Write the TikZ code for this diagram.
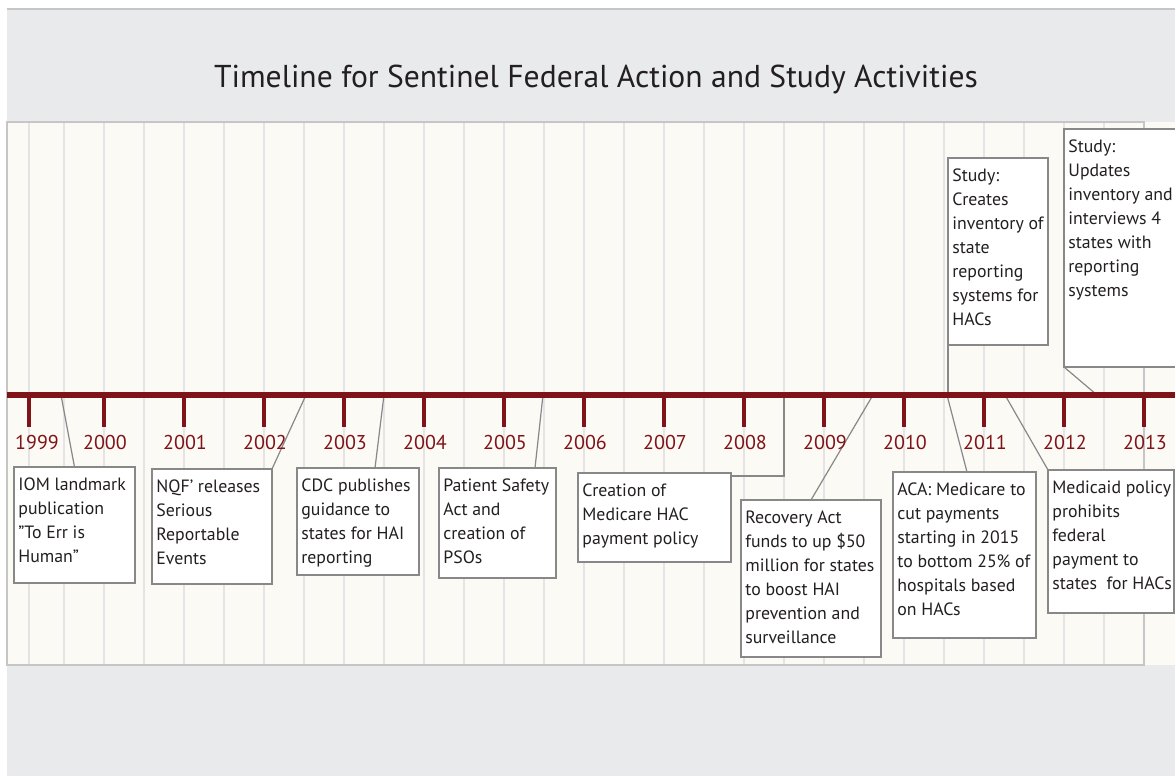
\documentclass[tikz,border=0pt]{standalone}
\usepackage{fontspec}
\setmainfont{PT Sans}
\usepackage{tikz}
\usetikzlibrary{calc}
\definecolor{axisRed}{RGB}{127,19,23}
\definecolor{panelGray}{RGB}{233,234,236}
\definecolor{plotCream}{RGB}{252,250,245}
\definecolor{gridGray}{RGB}{228,228,231}
\definecolor{borderGray}{RGB}{198,198,198}
\definecolor{boxGray}{RGB}{136,136,136}
\definecolor{textDark}{RGB}{35,31,32}
\newcommand{\eventFont}{\fontsize{8.9}{12}\selectfont}
\newcommand{\yearFont}{\fontsize{10}{12}\selectfont}
\newcommand{\titleFont}{\fontsize{15.8}{19}\selectfont}
\tikzstyle{timeline} = [x = 0.5pt, y = -0.5pt]
\tikzstyle{gridLine} = [color=gridGray, line width=.75pt]
\tikzstyle{borderLine} = [color=borderGray, line width=1.25pt]
\tikzstyle{axisLine} = [color=axisRed, line width=3pt]
\tikzstyle{tickLine} = [color=axisRed, line width=2pt]
\tikzstyle{yearText} = [color=axisRed, font=\yearFont, anchor=base, inner sep=0pt]
\tikzstyle{eventBox} = [draw=boxGray, fill=white, line width=.75pt, inner sep=0pt, outer sep=0pt, anchor=north west]
\tikzstyle{eventText} = [align=left, inner sep=0pt, anchor=north west, color=textDark, font=\eventFont]
\tikzstyle{callout} = [color=boxGray, line width=.6pt]
\newcommand{\timelineEvent}[6]{
  \node [eventBox, minimum width=#4*0.5pt, minimum height=#5*0.5pt] (#1) at (#2,#3) {};
  \node [eventText] (#1Text) at ($(#1.north west)+(4,10)$) {#6};
}
\newcommand{\gridLines}{
  \foreach \gx in {29,64,104,144,...,1104} {
    \draw [gridLine] (\gx,122) -- (\gx,665);
  }
}
\newcommand{\yearTicks}{
  \foreach \year/\tx/\lx in {1999/29/37, 2000/104/105, 2001/184/185, 2002/264/265, 2003/344/345,
      2004/424/425, 2005/504/505, 2006/584/585, 2007/664/665, 2008/744/745,
      2009/824/825, 2010/904/905, 2011/984/985, 2012/1064/1065, 2013/1144/1145} {
    \draw [tickLine] (\tx,395) -- (\tx,427);
    \node [yearText] (y\year) at (\lx,449) {\year};
  }
}

\begin{document}
\begin{tikzpicture}[timeline]
  \useasboundingbox (0,0) rectangle (1175,776);
  \fill [panelGray] (7,9) rectangle (1175,776);
  \draw [borderLine] (7,9) -- (1175,9);
  \fill [plotCream] (7,122) rectangle (1175,665);
  \gridLines
  \draw [borderLine] (1144,122) -- (7,122) -- (7,665) -- (1144,665) -- cycle;

  \node [font=\titleFont, color=textDark, anchor=base] (title) at (596,87)
    {Timeline for Sentinel Federal Action and Study Activities};

  \coordinate (pinIom) at (61,395);
  \coordinate (pinNqf) at (306,395);
  \coordinate (pinCdc) at (384,395);
  \coordinate (pinPsa) at (543,395);
  \coordinate (pinHac) at (784,395);
  \coordinate (pinRec) at (873,395);
  \coordinate (pinAca) at (947,395);
  \coordinate (pinMcd) at (1005,395);
  \coordinate (pinStudyA) at (948,395);
  \coordinate (pinStudyB) at (1097,395);

  \timelineEvent{iom}{14}{467}{121}{116}{IOM landmark\\publication\\\symbol{34}To Err is\\Human\symbol{34}}
  \timelineEvent{nqf}{152}{469}{120}{115}{NQF' releases\\Serious\\Reportable\\Events}
  \timelineEvent{cdc}{297}{468}{122}{107}{CDC publishes\\guidance to\\states for HAI\\reporting}
  \timelineEvent{psa}{439}{468}{117}{110}{Patient Safety\\Act and\\creation of\\PSOs}
  \timelineEvent{hac}{578}{473}{153}{89}{Creation of\\Medicare HAC\\payment policy}
  \timelineEvent{rec}{741}{500}{140}{157}{Recovery Act\\funds to up \$50\\million for states\\to boost HAI\\prevention and\\surveillance}
  \timelineEvent{aca}{893}{472}{143}{166}{ACA: Medicare to\\cut payments\\starting in 2015\\to bottom 25\% of\\hospitals based\\on HACs}
  \timelineEvent{mcd}{1048}{470}{126}{143}{Medicaid policy\\prohibits\\federal\\payment to\\states~ for HACs}
  \timelineEvent{studyA}{948}{158}{100}{187}{Study:\\Creates\\inventory of\\state\\reporting\\systems for\\HACs}
  \timelineEvent{studyB}{1064}{129}{140}{238}{Study:\\Updates\\inventory and\\interviews 4\\states with\\reporting\\systems}

  \draw [callout] (pinIom) -- (iom.north);
  \draw [callout] (pinNqf) -- (nqf.north east);
  \draw [callout] (pinCdc) -- ($(cdc.north west)+(78,0)$);
  \draw [callout] (pinPsa) -- ($(psa.north west)+(96,0)$);
  \draw [callout] (pinHac) |- ($(hac.north east)+(0,3)$);
  \draw [callout] (pinRec) -- (rec.north);
  \draw [callout] (pinAca) -- ($(aca.north west)+(74,0)$);
  \draw [callout] (pinMcd) -- (mcd.north west);
  \draw [callout] (pinStudyA) -- (studyA.south west);
  \draw [callout] (pinStudyB) -- (studyB.south west);

  \draw [axisLine] (7,395) -- (1175,395);
  \yearTicks
\end{tikzpicture}
\end{document}
